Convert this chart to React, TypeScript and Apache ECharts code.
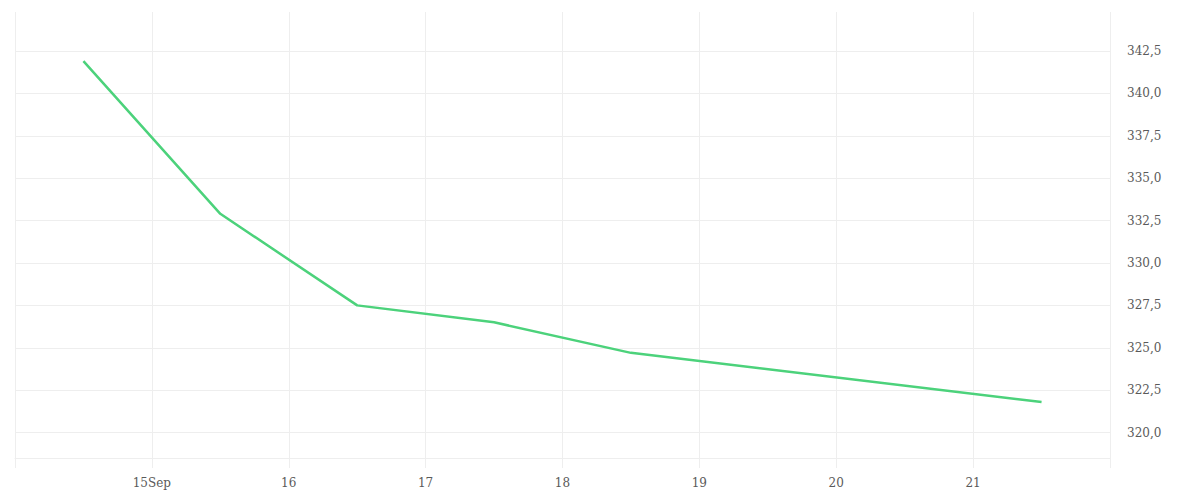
import * as echarts from 'echarts';
import { useEffect, useRef } from 'react';

// day of September (noon readings) and the price read at each
const days = [14.5, 15.5, 16.5, 17.5, 18.5, 21.5];
const values = [341.9, 332.9, 327.5, 326.5, 324.7, 321.8];

// x ticks run from Sep 14 to Sep 22, one per day
const xTickLabels = ['', '15Sep', '16', '17', '18', '19', '20', '21', ''];
const xMin = 14;
const xMax = 22;

const yMin = 318.5;
const yMax = 344.8;
const yStep = 2.5;

const gridColor = '#eeeeee';
const labelColor = '#5a5a5a';
const font = '"DejaVu Serif", serif';

function fmtY(v: number) {
  const k = Math.round(v / yStep);
  if (Math.abs(k * yStep - v) > 1e-6) return '';
  return v.toFixed(1).replace('.', ',');
}

export default function App() {
  const ref = useRef<HTMLDivElement>(null);

  useEffect(() => {
    if (!ref.current) return;
    const chart = echarts.init(ref.current, null, { renderer: 'svg' });
    chart.setOption({
      animation: false,
      backgroundColor: '#ffffff',
      grid: {
        left: 15,
        right: 90,
        top: 12,
        bottom: 42,
        containLabel: false,
        outerBoundsMode: 'none',
      },
      xAxis: {
        type: 'value',
        min: xMin,
        max: xMax,
        interval: 1,
        axisLine: { show: true, lineStyle: { color: gridColor, width: 1 } },
        axisTick: { show: true, length: 10, lineStyle: { color: gridColor } },
        splitLine: { show: true, lineStyle: { color: gridColor, width: 1 } },
        axisLabel: {
          margin: 19,
          color: labelColor,
          fontFamily: font,
          fontSize: 12,
          formatter: (v: number) => xTickLabels[Math.round(v - xMin)] ?? '',
        },
      },
      yAxis: {
        type: 'value',
        position: 'right',
        min: yMin,
        max: yMax,
        minInterval: yStep,
        maxInterval: yStep,
        splitNumber: 10,
        axisLine: { show: false },
        axisTick: { show: false },
        splitLine: {
          show: true,
          showMinLine: false,
          showMaxLine: false,
          lineStyle: { color: gridColor, width: 1 },
        },
        axisLabel: {
          margin: 17,
          color: labelColor,
          fontFamily: font,
          fontSize: 12,
          padding: [5, 0, 0, 0],
          showMinLabel: false,
          showMaxLabel: false,
          formatter: fmtY,
        },
      },
      series: [
        {
          type: 'line',
          data: days.map((d, i) => [d, values[i]]),
          showSymbol: false,
          symbol: 'none',
          lineStyle: { color: '#4cd27b', width: 2.5 },
        },
      ],
    });
    return () => chart.dispose();
  }, []);

  return (
    <div
      ref={ref}
      style={{ position: 'fixed', left: 0, top: 0, width: 1200, height: 500 }}
    />
  );
}
